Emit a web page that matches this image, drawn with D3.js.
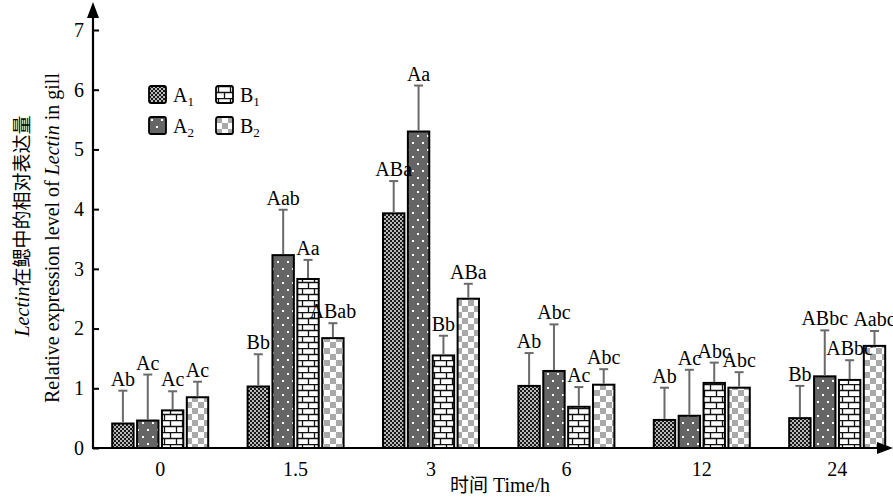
<!DOCTYPE html>
<html>
<head>
<meta charset="utf-8">
<script src="https://cdn.jsdelivr.net/npm/d3@7"></script>
<style>
  body { margin: 0; background: #fff; }
  text { font-family: "Liberation Serif", "Times New Roman", serif; fill: #000; }
  .cjk { font-family: "Noto Sans CJK SC", sans-serif; }
</style>
</head>
<body>
<div id="chart"></div>
<script>
var categories = ["0", "1.5", "3", "6", "12", "24"];
var seriesNames = ["A1", "A2", "B1", "B2"];

// mean values per series (one per time point)
var meanA1 = [0.41, 1.03, 3.93, 1.04, 0.47, 0.50];
var meanA2 = [0.46, 3.23, 5.30, 1.29, 0.54, 1.20];
var meanB1 = [0.63, 2.83, 1.55, 0.69, 1.09, 1.14];
var meanB2 = [0.85, 1.84, 2.50, 1.06, 1.01, 1.71];

// upper error (SD)
var errA1 = [0.55, 0.54, 0.54, 0.55, 0.54, 0.54];
var errA2 = [0.77, 0.76, 0.77, 0.78, 0.77, 0.77];
var errB1 = [0.32, 0.32, 0.33, 0.33, 0.34, 0.33];
var errB2 = [0.26, 0.25, 0.25, 0.26, 0.26, 0.25];

// significance letters
var sigA1 = ["Ab", "Bb", "ABa", "Ab", "Ab", "Bb"];
var sigA2 = ["Ac", "Aab", "Aa", "Abc", "Ac", "ABbc"];
var sigB1 = ["Ac", "Aa", "Bb", "Ac", "Abc", "ABbc"];
var sigB2 = ["Ac", "ABab", "ABa", "Abc", "Abc", "Aabc"];

var yTicks = [0, 1, 2, 3, 4, 5, 6, 7];

function init() {
    var w = 893, h = 499;
    var x0 = 93, yBase = 448;

    var means = {A1: meanA1, A2: meanA2, B1: meanB1, B2: meanB2};
    var errs = {A1: errA1, A2: errA2, B1: errB1, B2: errB2};
    var sigs = {A1: sigA1, A2: sigA2, B1: sigB1, B2: sigB2};

    var rows = [];
    seriesNames.forEach(function(s) {
        categories.forEach(function(c, i) {
            rows.push({series: s, cat: c, value: means[s][i], err: errs[s][i], sig: sigs[s][i]});
        });
    });

    var svg = d3.select("#chart").append("svg")
        .attr("width", w).attr("height", h);

    var defs = svg.append("defs");

    // A1: fine black mesh with white dots
    var pA1 = defs.append("pattern").attr("id", "pA1")
        .attr("patternUnits", "userSpaceOnUse").attr("width", 4).attr("height", 4);
    pA1.append("rect").attr("width", 4).attr("height", 4).attr("fill", "#1a1a1a");
    pA1.append("circle").attr("cx", 1).attr("cy", 1).attr("r", 0.95).attr("fill", "#fff");
    pA1.append("circle").attr("cx", 3).attr("cy", 3).attr("r", 0.95).attr("fill", "#fff");

    // A2: dark grey with white dots
    var pA2 = defs.append("pattern").attr("id", "pA2")
        .attr("patternUnits", "userSpaceOnUse").attr("width", 10).attr("height", 14);
    pA2.append("rect").attr("width", 10).attr("height", 14).attr("fill", "#656565");
    pA2.append("rect").attr("x", 2).attr("y", 2).attr("width", 2).attr("height", 2).attr("fill", "#fff");
    pA2.append("rect").attr("x", 7).attr("y", 9).attr("width", 2).attr("height", 2).attr("fill", "#fff");

    // B1: bricks
    var pB1 = defs.append("pattern").attr("id", "pB1")
        .attr("patternUnits", "userSpaceOnUse").attr("width", 12).attr("height", 12);
    pB1.append("rect").attr("width", 12).attr("height", 12).attr("fill", "#fff");
    pB1.append("path")
        .attr("d", "M0,0.5 H12 M0,6.5 H12 M2.5,0 V6.5 M8.5,6.5 V12")
        .attr("stroke", "#111").attr("stroke-width", 1.3).attr("fill", "none");

    // B2: light grey checkerboard
    var pB2 = defs.append("pattern").attr("id", "pB2")
        .attr("patternUnits", "userSpaceOnUse").attr("width", 12).attr("height", 12);
    pB2.append("rect").attr("width", 12).attr("height", 12).attr("fill", "#fff");
    pB2.append("rect").attr("width", 6).attr("height", 6).attr("fill", "#a9a9a9");
    pB2.append("rect").attr("x", 6).attr("y", 6).attr("width", 6).attr("height", 6).attr("fill", "#a9a9a9");

    var fillOf = function(s) { return "url(#p" + s + ")"; };

    // Scales
    var xScale = d3.scaleBand()
        .domain(categories)
        .range([92.5, 92.5 + 6 * 135.4]);

    var xInner = d3.scaleBand()
        .domain(seriesNames)
        .range([-48, 48])
        .paddingInner(0.14);

    var yScale = d3.scaleLinear()
        .domain([0, 7])
        .range([yBase, 30]);

    // Bars
    var bars = svg.append("g");
    bars.selectAll("rect")
        .data(rows)
        .enter().append("rect")
        .attr("x", function(d) { return xScale(d.cat) + xScale.bandwidth() / 2 + xInner(d.series); })
        .attr("y", function(d) { return yScale(d.value); })
        .attr("width", xInner.bandwidth())
        .attr("height", function(d) { return yScale(0) - yScale(d.value); })
        .attr("fill", function(d) { return fillOf(d.series); })
        .attr("stroke", "#000")
        .attr("stroke-width", 2);

    var cx = function(d) { return xScale(d.cat) + xScale.bandwidth() / 2 + xInner(d.series) + xInner.bandwidth() / 2; };

    // Error bars (upper only)
    var eb = svg.append("g").attr("stroke", "#6a6a6a").attr("stroke-width", 2);
    eb.selectAll("line.v")
        .data(rows)
        .enter().append("line")
        .attr("class", "v")
        .attr("x1", cx).attr("x2", cx)
        .attr("y1", function(d) { return yScale(d.value) - 1; })
        .attr("y2", function(d) { return yScale(d.value + d.err); });
    eb.selectAll("line.c")
        .data(rows)
        .enter().append("line")
        .attr("class", "c")
        .attr("x1", function(d) { return cx(d) - 4.5; })
        .attr("x2", function(d) { return cx(d) + 4.5; })
        .attr("y1", function(d) { return yScale(d.value + d.err); })
        .attr("y2", function(d) { return yScale(d.value + d.err); });

    // Significance letters
    svg.append("g").selectAll("text")
        .data(rows)
        .enter().append("text")
        .attr("x", cx)
        .attr("y", function(d) { return yScale(d.value + d.err) - 5; })
        .attr("text-anchor", "middle")
        .style("font-size", "20px")
        .text(function(d) { return d.sig; });

    // Y axis
    var yAxis = d3.axisLeft(yScale)
        .tickValues(yTicks)
        .tickSize(-6)
        .tickPadding(9)
        .tickFormat(d3.format("d"));
    var gy = svg.append("g")
        .attr("transform", "translate(" + x0 + ",0)")
        .call(yAxis);
    gy.select(".domain").remove();
    gy.selectAll(".tick line").attr("stroke", "#000").attr("stroke-width", 2);
    gy.selectAll(".tick text")
        .style("font-size", "20px")
        .style("font-family", "Liberation Serif");

    // X axis
    var xAxis = d3.axisBottom(xScale).tickSize(0).tickPadding(14);
    var gx = svg.append("g")
        .attr("transform", "translate(0," + yBase + ")")
        .call(xAxis);
    gx.select(".domain").remove();
    gx.selectAll(".tick text")
        .style("font-size", "20px")
        .style("font-family", "Liberation Serif");

    // Axis lines with arrows
    svg.append("line")
        .attr("x1", x0).attr("y1", yBase + 1)
        .attr("x2", x0).attr("y2", 14)
        .attr("stroke", "#000").attr("stroke-width", 2.2);
    svg.append("path")
        .attr("d", "M" + x0 + ",2 L" + (x0 - 6) + ",18 L" + (x0 + 6) + ",18 Z")
        .attr("fill", "#000");
    svg.append("line")
        .attr("x1", x0 - 1).attr("y1", yBase)
        .attr("x2", 880).attr("y2", yBase)
        .attr("stroke", "#000").attr("stroke-width", 2.2);
    svg.append("path")
        .attr("d", "M893," + yBase + " L877," + (yBase - 6) + " L877," + (yBase + 6) + " Z")
        .attr("fill", "#000");

    // X title
    var xt = svg.append("text")
        .attr("x", 500).attr("y", 492)
        .attr("text-anchor", "middle")
        .style("font-size", "20px");
    xt.append("tspan").attr("class", "cjk").style("font-size", "19px").text("时间");
    xt.append("tspan").text(" Time/h");

    // Y title, two lines
    var yt1 = svg.append("text")
        .attr("transform", "translate(29,226) rotate(-90)")
        .attr("text-anchor", "middle")
        .style("font-size", "20px");
    yt1.append("tspan").style("font-style", "italic").text("Lectin");
    yt1.append("tspan").attr("class", "cjk").style("font-size", "19px").text("在鳃中的相对表达量");

    var yt2 = svg.append("text")
        .attr("transform", "translate(59,238) rotate(-90)")
        .attr("text-anchor", "middle")
        .style("font-size", "20px");
    yt2.append("tspan").text("Relative expression level of ");
    yt2.append("tspan").style("font-style", "italic").text("Lectin");
    yt2.append("tspan").text(" in gill");

    // Legend
    var legendPos = [
        {s: "A1", x: 149, y: 86}, {s: "B1", x: 216, y: 86},
        {s: "A2", x: 149, y: 117}, {s: "B2", x: 216, y: 117}
    ];
    var lg = svg.append("g").selectAll("g")
        .data(legendPos)
        .enter().append("g")
        .attr("transform", function(d) { return "translate(" + d.x + "," + d.y + ")"; });
    lg.append("rect")
        .attr("width", 17).attr("height", 17)
        .attr("rx", 2)
        .attr("fill", function(d) { return fillOf(d.s); })
        .attr("stroke", "#000").attr("stroke-width", 1.8);
    var lt = lg.append("text")
        .attr("x", 24).attr("y", 16)
        .style("font-size", "20px");
    lt.append("tspan").text(function(d) { return d.s.charAt(0); });
    lt.append("tspan").attr("dy", 4).style("font-size", "13px").text(function(d) { return d.s.charAt(1); });
}

window.onload = init;
</script>
</body>
</html>
